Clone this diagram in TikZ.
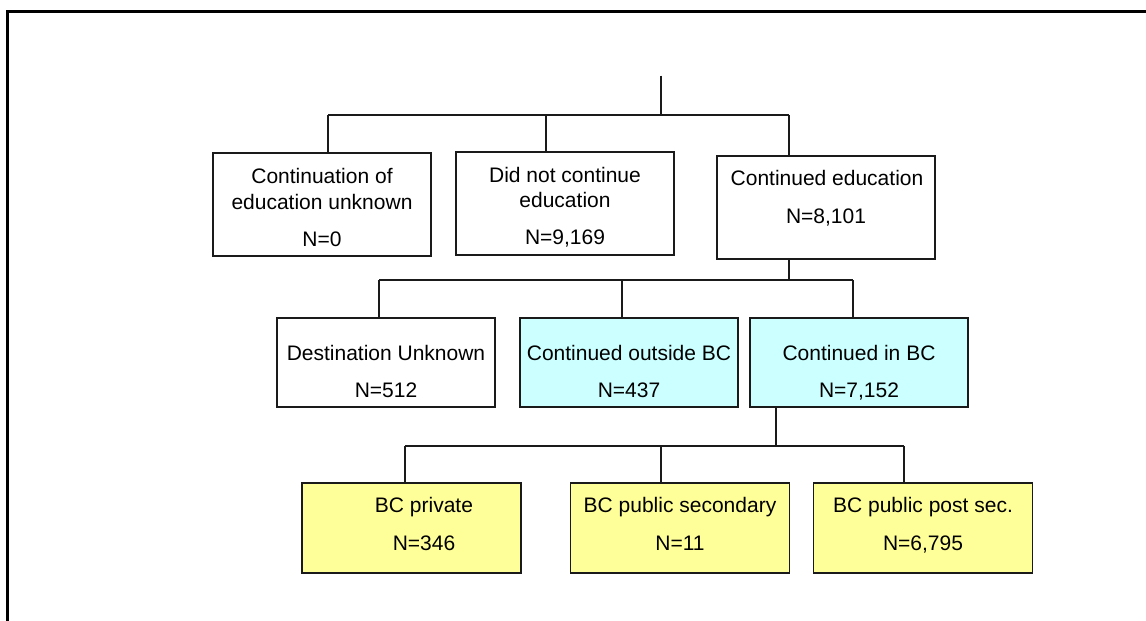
\documentclass[tikz,border=0pt]{standalone}
\usepackage{fontspec}
\setmainfont{Liberation Sans}
\definecolor{boxcyan}{HTML}{CCFFFF}
\definecolor{boxyellow}{HTML}{FFFF99}
\definecolor{ink}{HTML}{1A1A1A}
\begin{document}
\begin{tikzpicture}[x=1pt,y=-1pt,
  box/.style={draw=ink, line width=1.3pt, rectangle, inner sep=0pt, minimum width=218pt},
  tall/.style={box, minimum height=103pt},
  short/.style={box, minimum height=89pt},
  low/.style={box, minimum height=90pt, minimum width=219pt},
  lbl/.style={anchor=base, inner sep=0pt, font=\fontsize{21}{25}\selectfont, text=black},
  conn/.style={draw=ink, line width=1.3pt}]
\useasboundingbox (0,0) rectangle (1146,621);
% frame
\draw[line width=3pt, line join=miter] (7.5,621) -- (7.5,11.5) -- (1146,11.5);

% level 1 boxes
\node[tall, fill=white] (A) at (322,204.5) {};
\node[tall, fill=white] (B) at (565,203.5) {};
\node[tall, fill=white] (C) at (826,207.5) {};
\node[lbl] (A1) at (322,183) {Continuation of};
\node[lbl] (A2) at (322,209) {education unknown};
\node[lbl] (A3) at (322,246) {N=0};
\node[lbl] (B1) at (565,182) {Did not continue};
\node[lbl] (B2) at (565,207) {education};
\node[lbl] (B3) at (565,244) {N=9,169};
\node[lbl] (C1) at (827,185) {Continued education};
\node[lbl] (C2) at (826,223) {N=8,101};

% level 2 boxes
\node[short, fill=white] (D) at (386,362.5) {};
\node[short, fill=boxcyan] (E) at (629,362.5) {};
\node[short, fill=boxcyan] (F) at (859,362.5) {};
\node[lbl] (D1) at (386,360) {Destination Unknown};
\node[lbl] (D2) at (386,397) {N=512};
\node[lbl] (E1) at (629,360) {Continued outside BC};
\node[lbl] (E2) at (629,397) {N=437};
\node[lbl] (F1) at (859,360) {Continued in BC};
\node[lbl] (F2) at (859,397) {N=7,152};

% level 3 boxes
\node[low, fill=boxyellow] (G) at (411.5,528) {};
\node[low, fill=boxyellow] (H) at (680,528) {};
\node[low, fill=boxyellow] (I) at (923,528) {};
\node[lbl] (G1) at (424,512) {BC private};
\node[lbl] (G2) at (424,550.5) {N=346};
\node[lbl] (H1) at (680,512) {BC public secondary};
\node[lbl] (H2) at (680,550.5) {N=11};
\node[lbl] (I1) at (923,512) {BC public post sec.};
\node[lbl] (I2) at (923,550.5) {N=6,795};

% connectors level 1
\coordinate (root) at (661,75.7);
\coordinate (j1) at (661,115);
\coordinate (b1a) at (328,115);
\coordinate (b1b) at (546,115);
\coordinate (b1c) at (789,115);
\draw[conn] (root) -- (j1);
\draw[conn] (b1a) -- (b1c);
\draw[conn] (b1a) -- (b1a |- A.north);
\draw[conn] (b1b) -- (b1b |- B.north);
\draw[conn] (b1c) -- (b1c |- C.north);

% connectors level 2
\coordinate (j2) at (789,280);
\coordinate (b2a) at (379,280);
\coordinate (b2b) at (622,280);
\coordinate (b2c) at (853,280);
\draw[conn] (j2 |- C.south) -- (j2);
\draw[conn] (b2a) -- (b2c);
\draw[conn] (b2a) -- (b2a |- D.north);
\draw[conn] (b2b) -- (b2b |- E.north);
\draw[conn] (b2c) -- (b2c |- F.north);

% connectors level 3
\coordinate (j3) at (776,446);
\coordinate (b3a) at (405,446);
\coordinate (b3b) at (661,446);
\coordinate (b3c) at (904,446);
\draw[conn] (j3 |- F.south) -- (j3);
\draw[conn] (b3a) -- (b3c);
\draw[conn] (b3a) -- (b3a |- G.north);
\draw[conn] (b3b) -- (b3b |- H.north);
\draw[conn] (b3c) -- (b3c |- I.north);
\end{tikzpicture}
\end{document}
